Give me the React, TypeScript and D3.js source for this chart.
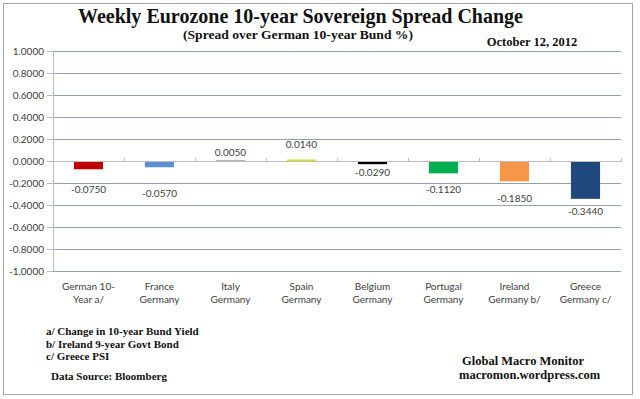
import React from "react";
import * as d3 from "d3";

const categoriesLine1 = ["German 10-", "France", "Italy", "Spain", "Belgium", "Portugal", "Ireland", "Greece"];
const categoriesLine2 = ["Year a/", "Germany", "Germany", "Germany", "Germany", "Germany", "Germany b/", "Germany c/"];
const values = [-0.075, -0.057, 0.005, 0.014, -0.029, -0.112, -0.185, -0.344];
const valueLabels = ["-0.0750", "-0.0570", "0.0050", "0.0140", "-0.0290", "-0.1120", "-0.1850", "-0.3440"];
const barColors = ["#c00000", "#5b8fd3", "#8064a2", "#dede20", "#000000", "#00b050", "#f79646", "#1f497d"];
const yTicks = [1, 0.8, 0.6, 0.4, 0.2, 0, -0.2, -0.4, -0.6, -0.8, -1];
const footnotes = ["a/ Change in 10-year Bund Yield", "b/ Ireland 9-year Govt Bond", "c/ Greece PSI"];
// label nudges (px) from bar end, as placed in the original
const labelNudge = [20, 26, -7.5, -14.5, 8, 16, 17, 13];

export default function App() {
  const W = 640, H = 399;
  const left = 53, right = 621, top = 51, bottom = 271;
  const x = d3.scaleBand<number>().domain(d3.range(values.length)).range([left, right]).paddingInner(0.59).paddingOuter(0.295);
  const xb = d3.scaleBand<number>().domain(d3.range(values.length)).range([left, right]);
  const y = d3.scaleLinear().domain([-1, 1]).range([bottom, top]);
  const sans = "Lato, 'Open Sans', sans-serif";
  const serif = "'Liberation Serif', 'Times New Roman', serif";
  const gridColor = "#8da2b6";
  const axisColor = "#bcbcbc";
  const textColor = "#404040";
  return (
    <svg width={W} height={H} style={{ position: "absolute", left: 0, top: 0 }}>
      <rect x={0} y={0} width={W} height={H} fill="#fff" />
      <rect x={3.5} y={3.5} width={629} height={391} fill="none" stroke="#a6a6a6" strokeWidth={1} />
      {/* title */}
      <text x={78} y={23} textLength={445} lengthAdjust="spacingAndGlyphs" fontFamily={serif} fontWeight="bold" fontSize={21} fill="#111">
        Weekly Eurozone 10-year Sovereign Spread Change
      </text>
      <text x={183} y={39} textLength={230} lengthAdjust="spacingAndGlyphs" fontFamily={serif} fontWeight="bold" fontSize={12.5} fill="#111">
        (Spread over German 10-year Bund  %)
      </text>
      <text x={532} y={46} textAnchor="middle" fontFamily={serif} fontWeight="bold" fontSize={12.5} fill="#111">
        October 12, 2012
      </text>
      {/* gridlines */}
      {yTicks.filter((t) => t !== 0).map((t) => (
        <line key={"g" + t} x1={left} x2={right} y1={Math.round(y(t)) + 0.5} y2={Math.round(y(t)) + 0.5} stroke={gridColor} strokeWidth={1} />
      ))}
      {/* y axis */}
      <line x1={left + 0.5} x2={left + 0.5} y1={top} y2={bottom} stroke={axisColor} />
      {yTicks.map((t) => (
        <g key={"t" + t}>
          <line x1={left - 6} x2={left} y1={Math.round(y(t)) + 0.5} y2={Math.round(y(t)) + 0.5} stroke={axisColor} />
          <text x={left - 9} y={y(t)} dy="0.35em" textAnchor="end" fontFamily={sans} fontSize={10} fill={textColor}>
            {t.toFixed(4)}
          </text>
        </g>
      ))}
      {/* bars */}
      {values.map((v, i) => (
        <rect key={"b" + i} x={x(i)} width={x.bandwidth()} y={y(Math.max(0, v))} height={Math.abs(y(v) - y(0))} fill={barColors[i]} />
      ))}
      {/* zero axis */}
      <line x1={left} x2={right} y1={Math.round(y(0)) + 0.5} y2={Math.round(y(0)) + 0.5} stroke={axisColor} />
      {d3.range(values.length + 1).map((i) => {
        const xx = Math.round(i < values.length ? (xb(i) as number) : right) + 0.5;
        return <line key={"ct" + i} x1={xx} x2={xx} y1={y(0) - 3} y2={y(0) + 1} stroke={axisColor} />;
      })}
      {/* value labels */}
      {values.map((v, i) => (
        <text key={"l" + i} x={(x(i) as number) + x.bandwidth() / 2} y={y(v) + labelNudge[i]} dy="0.35em" textAnchor="middle" fontFamily={sans} fontSize={10} fill={textColor}>
          {valueLabels[i]}
        </text>
      ))}
      {/* category labels */}
      {values.map((_, i) => (
        <text key={"c" + i} x={(xb(i) as number) + xb.bandwidth() / 2} textAnchor="middle" fontFamily={sans} fontSize={10} fill={textColor}>
          <tspan x={(xb(i) as number) + xb.bandwidth() / 2} y={290}>{categoriesLine1[i]}</tspan>
          <tspan x={(xb(i) as number) + xb.bandwidth() / 2} y={303}>{categoriesLine2[i]}</tspan>
        </text>
      ))}
      {/* footnotes */}
      {footnotes.map((f, i) => (
        <text key={"f" + i} x={46} y={335 + i * 12.5} fontFamily={serif} fontWeight="bold" fontSize={11} fill="#111">{f}</text>
      ))}
      <text x={51} y={380} fontFamily={serif} fontWeight="bold" fontSize={11} fill="#111">Data Source:  Bloomberg</text>
      <text x={462} y={365} fontFamily={serif} fontWeight="bold" fontSize={12.5} fill="#111">Global Macro Monitor</text>
      <text x={459} y={379} fontFamily={serif} fontWeight="bold" fontSize={12.5} fill="#111">macromon.wordpress.com</text>
    </svg>
  );
}
